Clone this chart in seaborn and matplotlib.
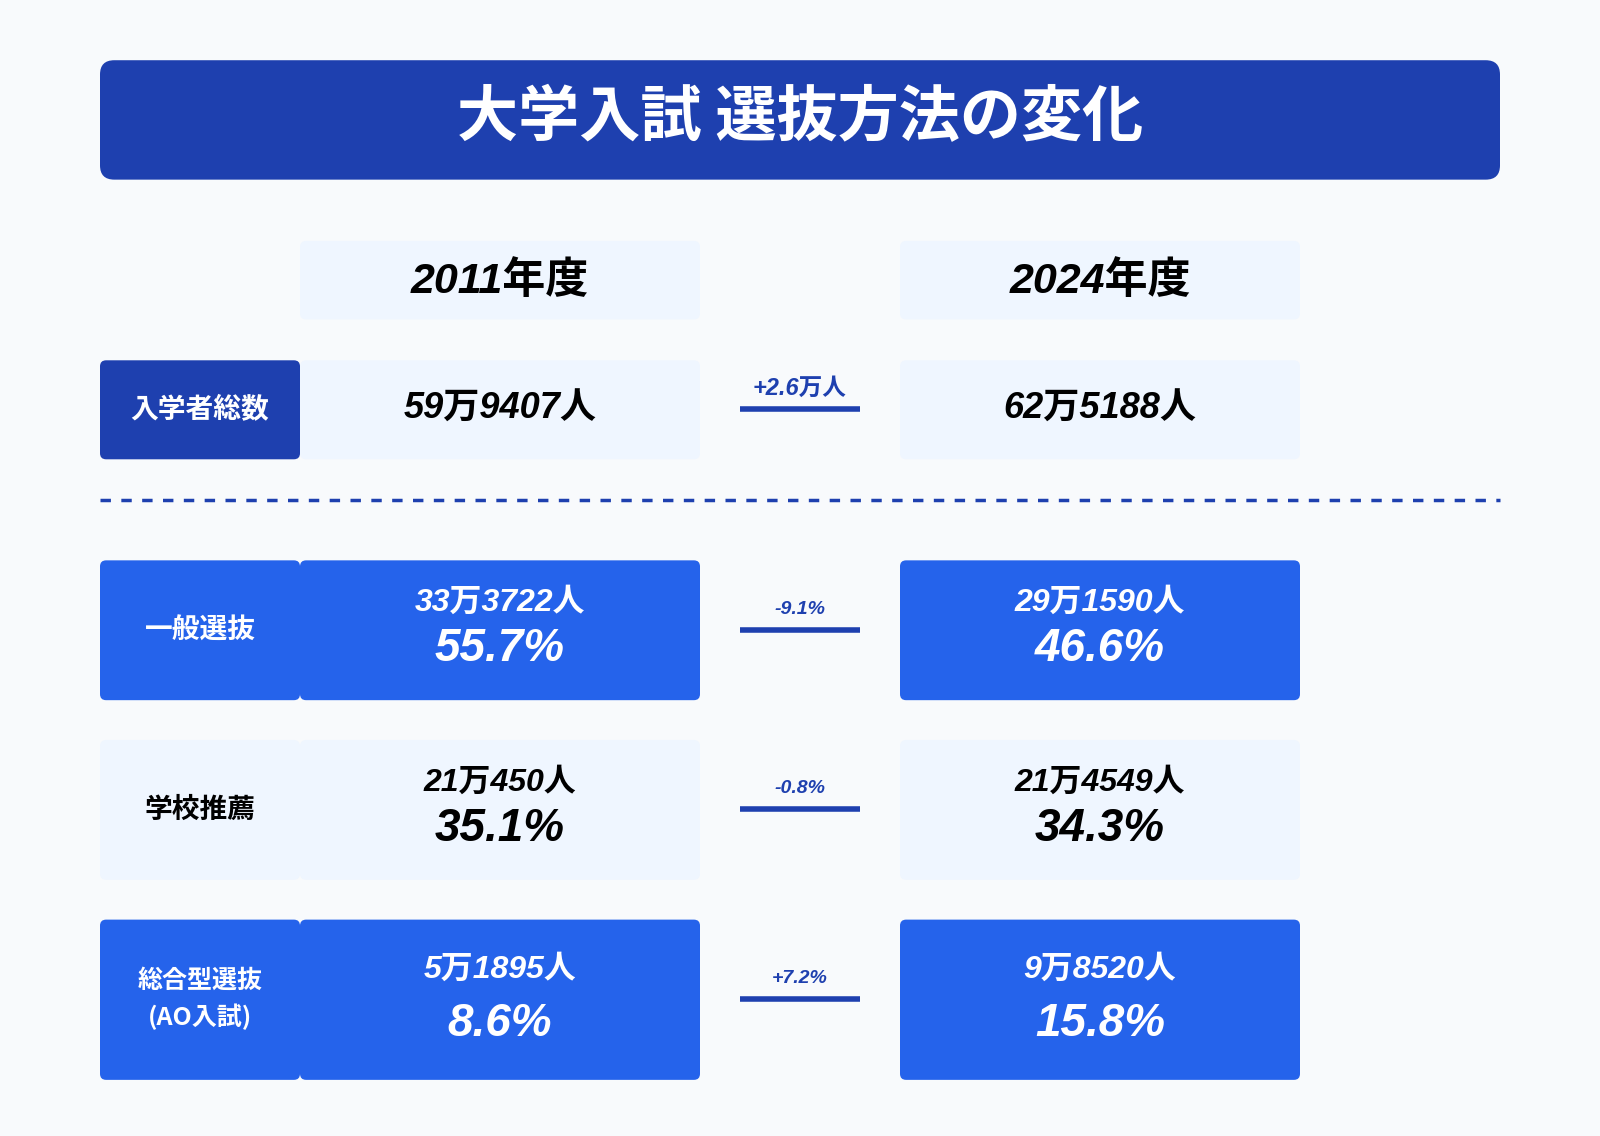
import matplotlib
matplotlib.use("Agg")
from matplotlib import pyplot as plt
from matplotlib.patches import FancyBboxPatch
import seaborn as sns

title = "大学入試 選抜方法の変化"
years = ["2011年度", "2024年度"]
total_label = "入学者総数"
total_values = ["59万9407人", "62万5188人"]
total_change = "+2.6万人"
row_labels = ["一般選抜", "学校推薦", "総合型選抜\n(AO入試)"]
counts_2011 = ["33万3722人", "21万450人", "5万1895人"]
counts_2024 = ["29万1590人", "21万4549人", "9万8520人"]
share_2011 = [55.7, 35.1, 8.6]
share_2024 = [46.6, 34.3, 15.8]
share_change = ["-9.1%", "-0.8%", "+7.2%"]
highlight = [True, False, True]

sns.set_style("white")
plt.rcParams["font.family"] = "Noto Sans CJK JP"
NUM = ["Liberation Sans", "Noto Sans CJK JP"]

DARK = "#1e40af"
BLUE = "#2563eb"
LIGHT = "#eff6ff"
BG = "#f8fafc"

fig = plt.figure(figsize=(16, 11.36), dpi=100, facecolor=BG)
ax = fig.add_axes([0, 0, 1, 1])
ax.set_xlim(0, 1568)
ax.set_ylim(1113, 0)
ax.axis("off")


def box(x0, y0, x1, y1, color, r=8):
    ax.add_patch(FancyBboxPatch((x0 + r, y0 + r), x1 - x0 - 2 * r, y1 - y0 - 2 * r,
                                boxstyle=f"round,pad={r}", fc=color, ec="none"))


def num(x, y, s, size, color):
    ax.text(x, y, s, fontsize=size, fontweight="bold", style="italic", family=NUM,
            ha="center", va="center", color=color)


# title
box(98, 59, 1470, 176, DARK, r=14)
ax.text(784, 116, title, color="white", fontsize=44, fontweight="bold", ha="center", va="center")

cols = [(294, 686), (882, 1274)]
for (x0, x1), yr in zip(cols, years):
    box(x0, 236, x1, 313, LIGHT, r=6)
    num((x0 + x1) / 2, 276, yr, 31, "black")

# total row
box(98, 353, 294, 450, DARK, r=6)
ax.text(196, 401, total_label, color="white", fontsize=20, fontweight="bold", ha="center", va="center")
for (x0, x1), v in zip(cols, total_values):
    box(x0, 353, x1, 450, LIGHT, r=6)
    num((x0 + x1) / 2, 401, v, 26, "black")
num(784, 380, total_change, 17, DARK)
ax.plot([725, 843], [401, 401], color=DARK, lw=4, solid_capstyle="butt")

ax.plot([98, 1470], [490, 490], color=DARK, lw=2.5, ls=(0, (3, 3)))

rows = [(549, 686), (725, 862), (901, 1058)]
for i, (y0, y1) in enumerate(rows):
    hl = highlight[i]
    fc = BLUE if hl else LIGHT
    tc = "white" if hl else "black"
    box(98, y0, 294, y1, fc, r=6)
    ax.text(196, (y0 + y1) / 2, row_labels[i], color=tc, fontsize=20 if i < 2 else 18,
            fontweight="bold", ha="center", va="center", linespacing=1.5)
    tall = (y1 - y0) > 145
    cy = y0 + (49 if tall else 42)
    py = y0 + (102 if tall else 87)
    for (x0, x1), c, s in zip(cols, [counts_2011, counts_2024], [share_2011, share_2024]):
        box(x0, y0, x1, y1, fc, r=6)
        xc = (x0 + x1) / 2
        num(xc, cy, c[i], 23, tc)
        num(xc, py, f"{s[i]}%", 33, tc)
    ly = y0 + (78 if tall else 68)
    num(784, ly - 20, share_change[i], 14, DARK)
    ax.plot([725, 843], [ly, ly], color=DARK, lw=4, solid_capstyle="butt")

fig.savefig("out.png", dpi=100, facecolor=BG)
